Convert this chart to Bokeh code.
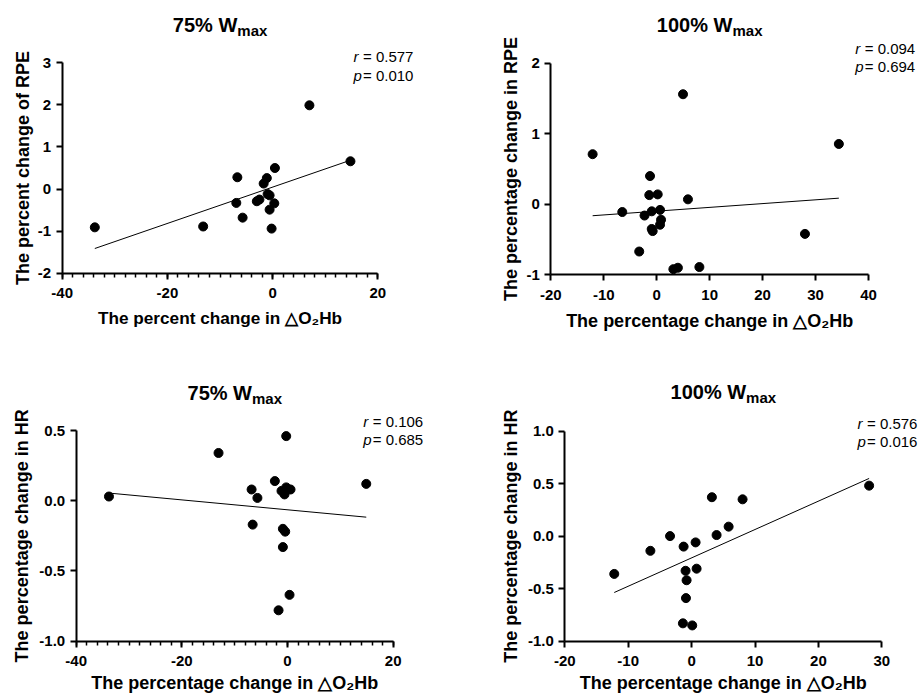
import math
import numpy as np
from bokeh.plotting import figure
from bokeh.layouts import column, row
from bokeh.models import Label, SingleIntervalTicker, PrintfTickFormatter, Range1d
from bokeh.embed import file_html
from bokeh.resources import INLINE

FONT = "Liberation Sans"

# ---------------- data ----------------
x75_rpe = [-33.8, 7.0, 14.8, -13.2, -6.7, -6.9, -5.7, -3.0, -2.5, -1.7, -1.1, -0.95, -0.57, -0.57, 0.32, 0.44, -0.19]
y75_rpe = [-0.91, 1.99, 0.66, -0.89, 0.28, -0.33, -0.68, -0.29, -0.25, 0.13, 0.26, -0.12, -0.15, -0.49, -0.34, 0.50, -0.94]

x100_rpe = [-12.1, -6.5, -2.3, -3.3, -1.26, -1.4, 0.19, -0.94, 0.63, -0.94, -0.76, 0.82, 0.63, 4.97, 5.9, 3.15, 4.0, 8.06, 28.0, 34.4]
y100_rpe = [0.71, -0.11, -0.16, -0.67, 0.40, 0.13, 0.14, -0.10, -0.08, -0.35, -0.38, -0.22, -0.29, 1.56, 0.07, -0.92, -0.90, -0.89, -0.42, 0.855]

x75_hr = [-33.8, -13.06, -6.8, -5.7, -6.6, -2.4, -1.14, -0.25, -0.25, -0.57, 0.57, -0.88, -0.44, -0.88, 0.38, -1.7, 14.9]
y75_hr = [0.03, 0.34, 0.08, 0.02, -0.17, 0.14, 0.07, 0.46, 0.095, 0.045, 0.08, -0.20, -0.22, -0.33, -0.67, -0.78, 0.12]

x100_hr = [-12.2, -6.5, -3.4, -1.26, 0.63, -0.95, 0.79, -0.79, -0.89, -1.37, 0.1, 3.2, 3.94, 5.84, 8.04, 28.0]
y100_hr = [-0.36, -0.14, 0.0, -0.10, -0.06, -0.33, -0.31, -0.42, -0.59, -0.83, -0.85, 0.37, 0.01, 0.09, 0.35, 0.48]

titles = ["75% W", "100% W", "75% W", "100% W"]
title_sub = "max"
y_labels = ["The percent change of RPE", "The percentage change in RPE",
            "The percentage change in HR", "The percentage change in HR"]
x_labels = ["The percent change in \u25b3O\u2082Hb", "The percentage change in \u25b3O\u2082Hb",
            "The percentage change in \u25b3O\u2082Hb", "The percentage change in \u25b3O\u2082Hb"]
r_values = ["0.577", "0.094", "0.106", "0.576"]
p_values = ["0.010", "0.694", "0.685", "0.016"]
x_limits = [(-40, 20), (-20, 40), (-40, 20), (-20, 30)]
y_limits = [(-2, 3), (-1, 2), (-1, 0.5), (-1, 1)]
x_steps = [20, 10, 20, 10]
y_steps = [1, 1, 0.5, 0.5]
y_formats = ["%d", "%d", "%.1f", "%.1f"]

# ---------------- layout (page pixels) ----------------
FIG = [(0, 0, 462, 350), (462, 0, 460, 350), (0, 350, 462, 345), (462, 350, 460, 345)]
# pixel of (x0, x1) and (y1, y0) axis ends
AX = [(61.7, 377.3, 62.3, 272.7), (550.3, 868.0, 62.7, 274.3),
      (75.7, 392.7, 430.0, 640.7), (564.3, 881.3, 430.5, 640.7)]
# text baselines / anchors (page pixels)
ANN = [
    dict(tb=31.0, rx=353.0, ry=61.7, py=80.0, ylx=22.0, xly=323.3, xls=17.2),
    dict(tb=31.0, rx=854.7, ry=53.3, py=71.7, ylx=510.0, xly=326.7, xls=18.0),
    dict(tb=399.0, rx=362.7, ry=426.0, py=444.3, ylx=21.7, xly=688.3, xls=18.0),
    dict(tb=398.3, rx=857.0, ry=428.3, py=446.7, ylx=510.3, xly=689.0, xls=18.0),
]


def make_panel(idx, x, y, minor):
    fx, fy, fw, fh = FIG[idx]
    px0, px1, py1, py0 = AX[idx]
    x0, x1 = x_limits[idx]
    y0, y1 = y_limits[idx]
    sx = (px1 - px0) / (x1 - x0)
    sy = (py0 - py1) / (y1 - y0)
    xr = Range1d(x0 - (px0 - fx) / sx, x1 + (fx + fw - px1) / sx)
    yr = Range1d(y0 - (fy + fh - py0) / sy, y1 + (py1 - fy) / sy)

    p = figure(width=fw, height=fh, x_range=xr, y_range=yr,
               output_backend="svg", toolbar_location=None, title=None,
               min_border=0, min_border_left=0, min_border_right=0,
               min_border_top=0, min_border_bottom=0)
    p.xgrid.visible = False
    p.ygrid.visible = False
    p.outline_line_color = None
    p.background_fill_color = "white"
    p.border_fill_color = "white"

    p.xaxis.fixed_location = y0
    p.xaxis.bounds = (x0, x1)
    p.yaxis.fixed_location = x0
    p.yaxis.bounds = (y0, y1)
    p.xaxis.ticker = SingleIntervalTicker(interval=x_steps[idx], num_minor_ticks=10 if minor else 0)
    p.yaxis.ticker = SingleIntervalTicker(interval=y_steps[idx], num_minor_ticks=0)
    p.xaxis.formatter = PrintfTickFormatter(format="%d")
    p.yaxis.formatter = PrintfTickFormatter(format=y_formats[idx])
    for ax in (p.xaxis[0], p.yaxis[0]):
        ax.axis_line_width = 2
        ax.axis_line_color = "black"
        ax.major_tick_line_width = 2
        ax.major_tick_line_color = "black"
        ax.major_tick_out = 6
        ax.major_tick_in = 0
        ax.minor_tick_out = 4
        ax.minor_tick_in = 0
        ax.minor_tick_line_width = 1.5
        ax.minor_tick_line_color = "black"
        ax.major_label_text_font = FONT
        ax.major_label_text_font_size = "15px"
        ax.major_label_text_font_style = "bold"
        ax.major_label_text_color = "black"
    p.xaxis.major_label_standoff = 9
    p.yaxis.major_label_standoff = 5
    if not minor:
        p.xaxis.minor_tick_line_color = None
    p.yaxis.minor_tick_line_color = None

    # regression line computed from the data
    coef = np.polyfit(np.array(x), np.array(y), 1)
    xs = np.array([min(x), max(x)])
    p.line(xs, np.polyval(coef, xs), line_color="black", line_width=1)
    p.scatter(x, y, size=9, color="black")

    def SX(X):
        return X - fx

    def SY(Y):
        return fy + fh - Y

    def mid(baseline, size):
        return SY(baseline - 0.35 * size)

    a = ANN[idx]
    cx = (px0 + px1) / 2
    jdx = 22.8 if titles[idx].startswith("100") else 17.3
    p.add_layout(Label(x=SX(cx + jdx), y=mid(a["tb"], 20), x_units="screen", y_units="screen",
                       text=titles[idx], text_align="right", text_baseline="middle",
                       text_font=FONT, text_font_size="20px", text_font_style="bold",
                       text_color="black"))
    p.add_layout(Label(x=SX(cx + jdx), y=mid(a["tb"] + 4, 15), x_units="screen", y_units="screen",
                       text=title_sub, text_align="left", text_baseline="middle",
                       text_font=FONT, text_font_size="15px", text_font_style="bold",
                       text_color="black"))
    for sym, val, yy in (("r", r_values[idx], a["ry"]), ("p", p_values[idx], a["py"])):
        p.add_layout(Label(x=SX(a["rx"]), y=mid(yy, 15), x_units="screen", y_units="screen",
                           text=sym, text_align="left", text_baseline="middle", text_font=FONT,
                           text_font_size="15px", text_font_style="italic", text_color="black"))
        p.add_layout(Label(x=SX(a["rx"] + 9.5), y=mid(yy, 15), x_units="screen", y_units="screen",
                           text="= " + val, text_align="left", text_baseline="middle",
                           text_font=FONT, text_font_size="15px", text_color="black"))
    p.add_layout(Label(x=SX(a["ylx"]), y=SY((py0 + py1) / 2), x_units="screen", y_units="screen",
                       text=y_labels[idx], angle=math.pi / 2, text_align="center",
                       text_baseline="middle", text_font=FONT, text_font_size="18px",
                       text_font_style="bold", text_color="black"))
    xs_ = a["xls"]
    p.add_layout(Label(x=SX(cx), y=mid(a["xly"], xs_), x_units="screen", y_units="screen",
                       text=x_labels[idx], text_align="center", text_baseline="middle",
                       text_font=FONT, text_font_size="%.1fpx" % xs_, text_font_style="bold",
                       text_color="black"))
    return p


p1 = make_panel(0, x75_rpe, y75_rpe, True)
p2 = make_panel(1, x100_rpe, y100_rpe, False)
p3 = make_panel(2, x75_hr, y75_hr, True)
p4 = make_panel(3, x100_hr, y100_hr, False)

layout = column(row(p1, p2), row(p3, p4))
open("out.html", "w").write(file_html(layout, INLINE))
